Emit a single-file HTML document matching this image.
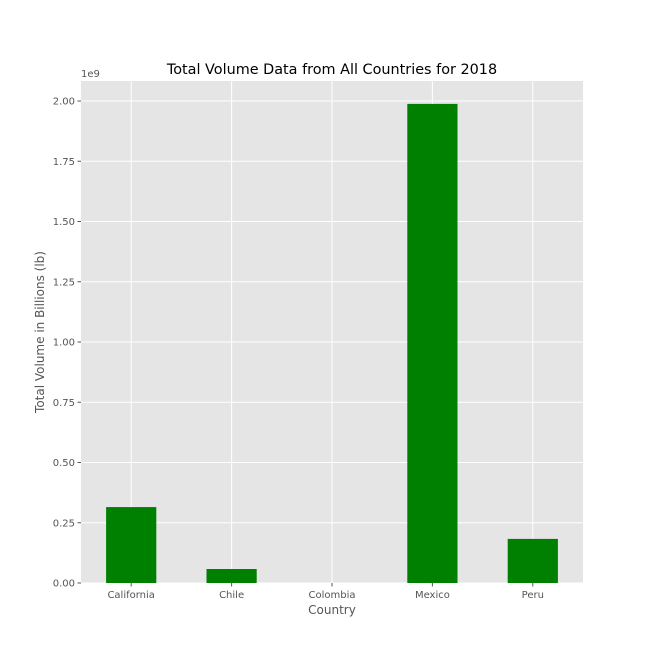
<!DOCTYPE html>
<html><head><meta charset="utf-8"><style>
body{margin:0;background:#fff;}
svg text{font-family:"DejaVu Sans","Liberation Sans",sans-serif;}
</style></head><body>
<svg id="chart" width="648" height="666">
<text x="332" y="74" text-anchor="middle" font-size="14.4" fill="#000">Total Volume Data from All Countries for 2018</text>
<rect x="81" y="81" width="502" height="502" fill="#e5e5e5"/>
<g id="grid"></g><g id="bars"></g><g id="axes"></g>
<text x="81" y="77" font-size="10" fill="#555">1e9</text>
<text x="332" y="614" text-anchor="middle" font-size="12" fill="#555">Country</text>
<text transform="translate(44,332) rotate(-90)" text-anchor="middle" font-size="12" fill="#555">Total Volume in Billions (lb)</text>
</svg>
<script>
const categories=["California","Chile","Colombia","Mexico","Peru"];
const values=[0.315,0.058,0.0,1.988,0.183];
const yTicks=[0,0.25,0.5,0.75,1.0,1.25,1.5,1.75,2.0];
const yTickLabels=["0.00","0.25","0.50","0.75","1.00","1.25","1.50","1.75","2.00"];
const NS="http://www.w3.org/2000/svg";
const L=81,R=583,T=81,B=583;
const x=i=>L+(i+0.5)*(R-L)/categories.length;
const y=v=>B-v*(B-101)/2.0;
const bw=0.5*(R-L)/categories.length;
function mk(tag,attrs,parent){const e=document.createElementNS(NS,tag);for(const k in attrs)e.setAttribute(k,attrs[k]);document.getElementById(parent).appendChild(e);return e;}
yTicks.forEach((t,i)=>{
 const g=mk('line',{x1:L,x2:R,y1:y(t),y2:y(t),stroke:'#fff','stroke-width':1},'grid');
 
 
 const tk=mk('line',{x1:L-3.5,x2:L,y1:y(t),y2:y(t),stroke:'#555'},'axes');
 
 
 const lb=mk('text',{x:L-6,y:y(t)+3.5,'text-anchor':'end','font-size':10,fill:'#555'},'axes');
 lb.textContent=yTickLabels[i];
 
 
});
categories.forEach((c,i)=>{
 const g=mk('line',{x1:x(i),x2:x(i),y1:T,y2:B,stroke:'#fff','stroke-width':1},'grid');
 
 
 const b=mk('rect',{x:x(i)-bw/2,y:y(values[i]),width:bw,height:B-y(values[i]),fill:'#008000'},'bars');
 
 
 const tk=mk('line',{x1:x(i),x2:x(i),y1:B,y2:B+3.5,stroke:'#555'},'axes');
 
 
 const lb=mk('text',{x:x(i),y:B+15,'text-anchor':'middle','font-size':10,fill:'#555'},'axes');
 lb.textContent=c;
 
 
});
</script>
</body></html>
